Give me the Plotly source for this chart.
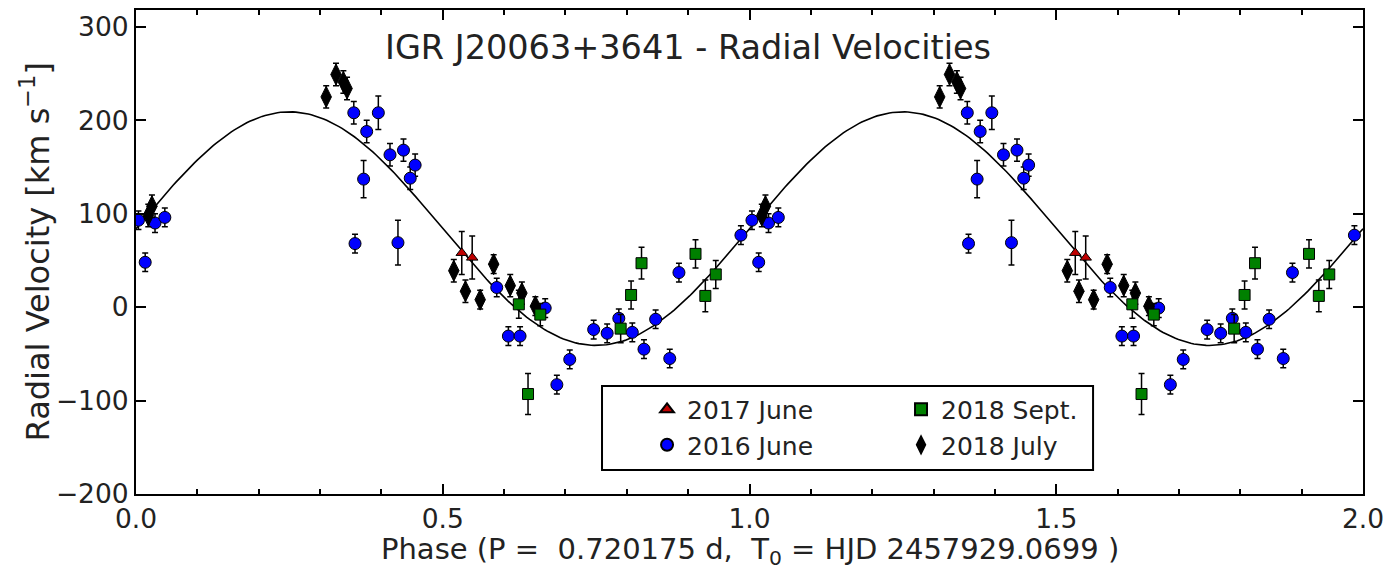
import numpy as np
import plotly.graph_objects as go

# ---- data (orbital phase in [0,1), radial velocity km/s, error km/s) ----
jun16_phase = [0.004, 0.015, 0.031, 0.047, 0.355, 0.357, 0.371, 0.376, 0.395, 0.414,
               0.427, 0.436, 0.447, 0.455, 0.588, 0.607, 0.626, 0.667, 0.686, 0.707,
               0.746, 0.768, 0.787, 0.809, 0.828, 0.847, 0.870, 0.885, 0.986]
jun16_rv = [93, 48, 90, 96, 208, 68, 137, 188, 208, 163,
            69, 168, 138, 152, 21, -31, -31, -1, -83, -56,
            -24, -28, -12, -27, -45, -13, -55, 37, 77]
jun16_err = [10, 10, 10, 10, 12, 10, 20, 12, 18, 12,
             24, 12, 12, 12, 10, 10, 10, 10, 10, 10,
             10, 10, 10, 10, 10, 10, 10, 10, 10]

jul18_phase = [0.020, 0.026, 0.310, 0.326, 0.338, 0.344, 0.518, 0.537, 0.561, 0.583,
               0.610, 0.629, 0.651]
jul18_rv = [98, 108, 225, 249, 241, 234, 39, 17, 8, 46, 23, 15, 1]
jul18_err = [12, 12, 12, 12, 12, 12, 12, 12, 10, 10, 12, 12, 10]

sep18_phase = [0.624, 0.639, 0.659, 0.790, 0.807, 0.824, 0.912, 0.928, 0.945]
sep18_rv = [3, -93, -8, -23, 13, 47, 57, 12, 35]
sep18_err = [15, 22, 12, 15, 15, 17, 15, 17, 15]

jun17_phase = [0.531, 0.548]
jun17_rv = [58, 53]
jun17_err = [23, 23]

# orbital fit parameters (sinusoidal model)
gamma = 84.0
K = 125.0

NB = "\u00a0"
title_text = "IGR J20063+3641 - Radial Velocities"
x_title = f"Phase (P ={NB}{NB}0.720175 d,{NB}{NB}T<sub>0</sub> = HJD 2457929.0699 )"
y_title = "Radial Velocity [km s<sup>\u22121</sup>]"

FONT = "DejaVu Sans"
TXT = "#222222"


def two_cycles(ph, rv, err):
    ph = np.asarray(ph)
    return (np.concatenate([ph, ph + 1]),
            np.concatenate([rv, rv]),
            np.concatenate([err, err]))


fig = go.Figure()

# model curve
ph_model = np.linspace(0, 2, 400)
fig.add_trace(go.Scatter(x=ph_model, y=gamma + K * np.sin(2 * np.pi * ph_model),
                         mode="lines", line=dict(color="black", width=1.6),
                         showlegend=False, hoverinfo="skip"))

series = [
    ("2016 June", jun16_phase, jun16_rv, jun16_err, "circle", "#0000ff", 12, "legend"),
    ("2018 July", jul18_phase, jul18_rv, jul18_err, "diamond-tall", "#000000", 15, "legend2"),
    ("2018 Sept.", sep18_phase, sep18_rv, sep18_err, "square", "#008000", 11, "legend2"),
    ("2017 June", jun17_phase, jun17_rv, jun17_err, "triangle-up", "#c00000", 10, "legend"),
]
rank = {"2017 June": 1, "2016 June": 2, "2018 Sept.": 1, "2018 July": 2}
for name, ph, rv, er, sym, col, sz, leg in series:
    x, y, e = two_cycles(ph, rv, er)
    fig.add_trace(go.Scatter(
        x=x, y=y, mode="markers", name=name, legend=leg, legendrank=rank[name],
        marker=dict(symbol=sym, color=col, size=sz, line=dict(color="black", width=1)),
        error_y=dict(type="data", array=e, color="black", thickness=1.5, width=3),
    ))

axis_common = dict(
    showline=True, linecolor="black", linewidth=2, mirror="ticks",
    ticks="inside", ticklen=10, tickwidth=2, tickcolor="black",
    showgrid=False, zeroline=False, automargin=False,
    tickfont=dict(family=FONT, size=26.5, color=TXT),
)

fig.update_xaxes(range=[0, 2], dtick=0.5, tick0=0, tickformat=".1f",
                 minor=dict(dtick=0.1, ticks="inside", ticklen=5, tickwidth=2, tickcolor="black"),
                 **axis_common)
fig.update_yaxes(range=[-200, 318], dtick=100, tick0=0, **axis_common)

# axis titles and chart title
fig.add_annotation(text=x_title, xref="paper", yref="paper", x=0.5, y=-0.117,
                   xanchor="center", yanchor="middle", showarrow=False,
                   font=dict(family=FONT, size=29, color=TXT))
fig.add_annotation(text=y_title, xref="paper", yref="paper", x=-0.082, y=0.5,
                   xanchor="center", yanchor="middle", textangle=-90, showarrow=False,
                   font=dict(family=FONT, size=32, color=TXT))
fig.add_annotation(text=title_text, xref="paper", yref="paper", x=0.45, y=0.923,
                   xanchor="center", yanchor="middle",
                   showarrow=False, font=dict(family=FONT, size=33.5, color=TXT))

# legend frame
fig.add_shape(type="rect", xref="paper", yref="paper",
              x0=0.3798, x1=0.780, y0=0.0496, y1=0.223,
              line=dict(color="black", width=2), fillcolor="rgba(0,0,0,0)")

leg_common = dict(bgcolor="rgba(0,0,0,0)", borderwidth=0, xanchor="left", yanchor="top",
                  font=dict(family=FONT, size=25, color=TXT), tracegroupgap=0,
                  itemsizing="constant")
# the page body adds an 8 px offset, so margins compensate for it
fig.update_layout(
    width=1385, height=562,
    margin=dict(l=128, r=30, t=2, b=76),
    plot_bgcolor="white", paper_bgcolor="white",
    legend=dict(x=0.4165, y=0.222, **leg_common),
    legend2=dict(x=0.6235, y=0.222, **leg_common),
)

fig.write_html("out.html")
